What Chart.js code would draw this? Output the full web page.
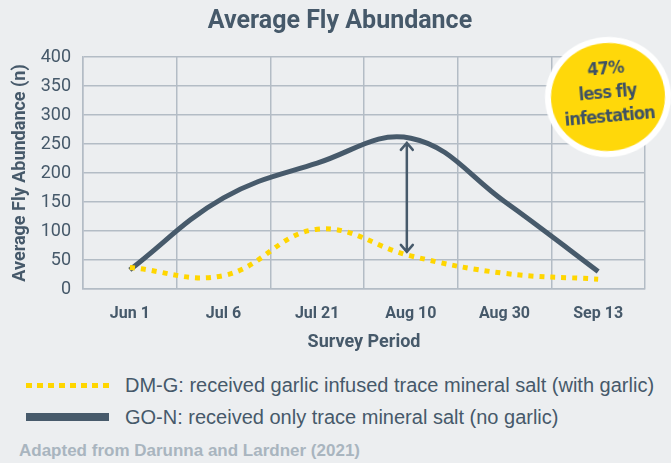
<!DOCTYPE html>
<html>
<head>
<meta charset="utf-8">
<script src="https://cdn.jsdelivr.net/npm/chart.js@4"></script>
<style>
  html, body { margin: 0; padding: 0; background: #eceef0; }
  #wrap { position: relative; width: 671px; height: 463px; overflow: hidden; background: #eceef0; }
  #chart { position: absolute; left: 0; top: 0; }
  #title { position: absolute; left: 0; top: 5px; width: 680px; text-align: center;
    font: bold 25px Roboto, sans-serif; color: #46596a; }
  .leg { position: absolute; left: 26px; height: 30px; display: flex; align-items: center;
    font: 20px "Liberation Sans", Arial, sans-serif; color: #46596a; white-space: nowrap; }
  .swatch { width: 83px; margin-right: 16px; }
  #foot { position: absolute; left: 19px; top: 441px; font: bold 17px "Liberation Sans", Arial, sans-serif; color: #a9b5bf; }
  #badge { position: absolute; left: 545px; top: 37px; width: 114px; height: 108px; border-radius: 50%;
    background: #ffd80a; border: 6px solid #fff; transform: rotate(-5deg); }
  #badge div { position: absolute; left: 0; top: 13px; width: 114px; text-align: center;
    font: bold 18px/24px "DejaVu Sans Condensed", sans-serif; letter-spacing: -0.8px; color: #3f5263; }
</style>
</head>
<body>
<div id="wrap">
  <canvas id="chart" width="671" height="360"></canvas>
  <div id="title">Average Fly Abundance</div>
  <div id="badge"><div>47%<br>less fly<br>infestation</div></div>
  <div class="leg" style="top:370px"><span class="swatch" style="height:5px;background:repeating-linear-gradient(90deg,#ffd600 0 6px,transparent 6px 11px)"></span>DM-G: received garlic infused trace mineral salt (with garlic)</div>
  <div class="leg" style="top:402px"><span class="swatch" style="height:8px;background:#475a6b"></span>GO-N: received only trace mineral salt (no garlic)</div>
  <div id="foot">Adapted from Darunna and Lardner (2021)</div>
</div>
<script>
const periods = ['Jun 1', 'Jul 6', 'Jul 21', 'Aug 10', 'Aug 30', 'Sep 13'];
const withGarlic = [37, 23, 103, 57, 27, 17];
const noGarlic = [33, 157, 217, 260, 151, 30];
const yTicks = [0, 50, 100, 150, 200, 250, 300, 350, 400];
const arrowRange = [252, 64];

const ink = '#46596a';
const grid = '#b3bcc5';

const arrowPlugin = {
    id: 'gapArrow',
    afterDatasetsDraw(chart) {
        const { ctx, scales: { x, y } } = chart;
        const px = x.getPixelForValue(3) - 4;
        const top = y.getPixelForValue(arrowRange[0]);
        const bot = y.getPixelForValue(arrowRange[1]);
        ctx.save();
        ctx.strokeStyle = '#475a6b';
        ctx.lineWidth = 2.5;
        ctx.lineCap = 'round';
        ctx.beginPath();
        ctx.moveTo(px, top); ctx.lineTo(px, bot);
        ctx.moveTo(px - 6, top + 7); ctx.lineTo(px, top); ctx.lineTo(px + 6, top + 7);
        ctx.moveTo(px - 6, bot - 7); ctx.lineTo(px, bot); ctx.lineTo(px + 6, bot - 7);
        ctx.stroke();
        ctx.restore();
    }
};

new Chart(document.getElementById('chart'), {
    type: 'line',
    data: {
        labels: periods,
        datasets: [{
            label: 'DM-G',
            data: withGarlic,
            borderColor: '#ffd600',
            borderWidth: 5,
            borderDash: [5, 6],
            pointRadius: 0,
            tension: 0.4
        }, {
            label: 'GO-N',
            data: noGarlic,
            borderColor: '#475a6b',
            borderWidth: 5,
            pointRadius: 0,
            tension: 0.4
        }]
    },
    options: {
        responsive: false,
        animation: false,
        layout: { padding: { top: 57, right: 26, left: 0, bottom: 0 } },
        plugins: { legend: { display: false }, tooltip: { enabled: false } },
        scales: {
            x: {
                offset: true,
                grid: { offset: true, color: grid, lineWidth: 1.5, drawTicks: false },
                border: { color: grid, width: 1.5 },
                ticks: { color: ink, padding: 15, font: { family: 'Roboto', weight: 'bold', size: 16 } },
                title: { display: true, text: 'Survey Period', color: ink, padding: { bottom: 7 },
                    font: { family: 'Roboto', weight: 'bold', size: 18 } },
                afterFit(s) { s.height = 71; }
            },
            y: {
                min: 0,
                max: 400,
                afterBuildTicks(s) { s.ticks = yTicks.map(v => ({ value: v })); },
                grid: { color: grid, lineWidth: 1.5, drawTicks: false },
                border: { color: grid, width: 1.5 },
                ticks: { color: ink, padding: 12, font: { family: 'Roboto', size: 18 } },
                title: { display: true, text: 'Average Fly Abundance (n)', color: ink, padding: { top: 10 },
                    font: { family: 'Roboto', weight: 'bold', size: 18 } },
                afterFit(s) { s.width = 83; }
            }
        }
    },
    plugins: [arrowPlugin]
});
</script>
</body>
</html>
